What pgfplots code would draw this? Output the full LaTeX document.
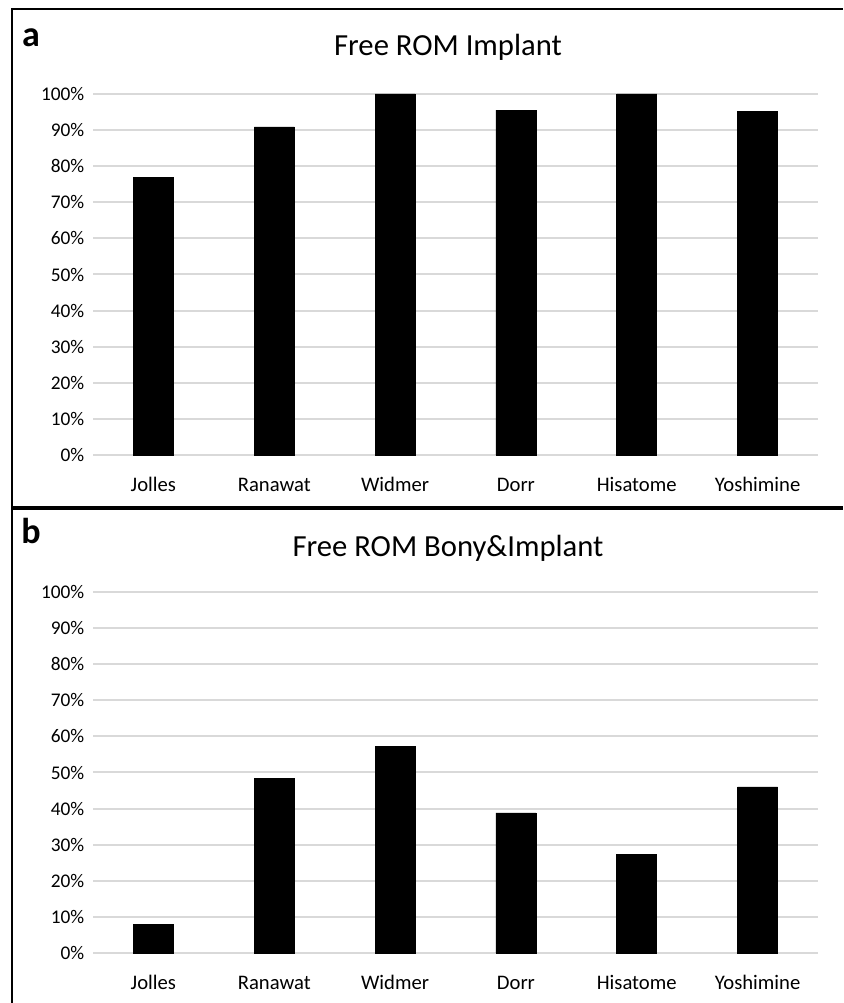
\documentclass[border=0pt]{standalone}
\usepackage{pgfplots}
\pgfplotsset{compat=1.18}
\usepackage{fontspec}
\setmainfont{Carlito}
\definecolor{gridgray}{HTML}{D9D9D9}
\pgfplotsset{
  panel/.style={
    scale only axis,
    width=543.75pt, height=270.75pt,
    anchor=south west,
    xmin=-0.5, xmax=5.5, ymin=0, ymax=100,
    axis line style={draw=none},
    major tick length=0pt,
    ytick={0,10,...,100},
    yticklabel={\pgfmathprintnumber{\tick}\%},
    /pgf/number format/assume math mode=true,
    yticklabel style={font=\fontsize{14.5}{16}\selectfont, xshift=-3pt},
    xtick={0,1,2,3,4,5},
    xticklabels={Jolles,Ranawat,Widmer,Dorr,Hisatome,Yoshimine},
    typeset ticklabels with strut,
    xticklabel style={font=\fontsize{15.5}{17}\selectfont, yshift=-12pt},
    ymajorgrids,
    grid style={gridgray, line width=1.5pt},
    clip=false,
  }
}
\begin{document}
\begin{tikzpicture}[x=0.75pt,y=0.75pt]
\useasboundingbox (0,0) rectangle (843,1003);
% borders
\draw[line width=2pt] (12,0) -- (12,994) -- (843,994);
\draw[line width=2.5pt] (12,495) -- (843,495);
\node[font=\bfseries\fontsize{27}{30}\selectfont] at (31,965) {a};
\node[font=\bfseries\fontsize{27}{30}\selectfont] at (31,472) {b};
\node[font=\fontsize{23}{26}\selectfont] at (448,956) {Free ROM Implant};
\node[font=\fontsize{23}{26}\selectfont] at (448,455) {Free ROM Bony\&Implant};
\begin{axis}[panel, at={(69.75pt,411pt)}]
\addplot[ybar, bar width=30pt, fill=black, draw=black] coordinates {
(0,76.9) (1,90.9) (2,100) (3,95.5) (4,100) (5,95.2)};
\end{axis}
\begin{axis}[panel, at={(69.75pt,37.5pt)}]
\addplot[ybar, bar width=30pt, fill=black, draw=black] coordinates {
(0,8.0) (1,48.4) (2,57.2) (3,38.8) (4,27.3) (5,46.0)};
\end{axis}
\end{tikzpicture}
\end{document}
